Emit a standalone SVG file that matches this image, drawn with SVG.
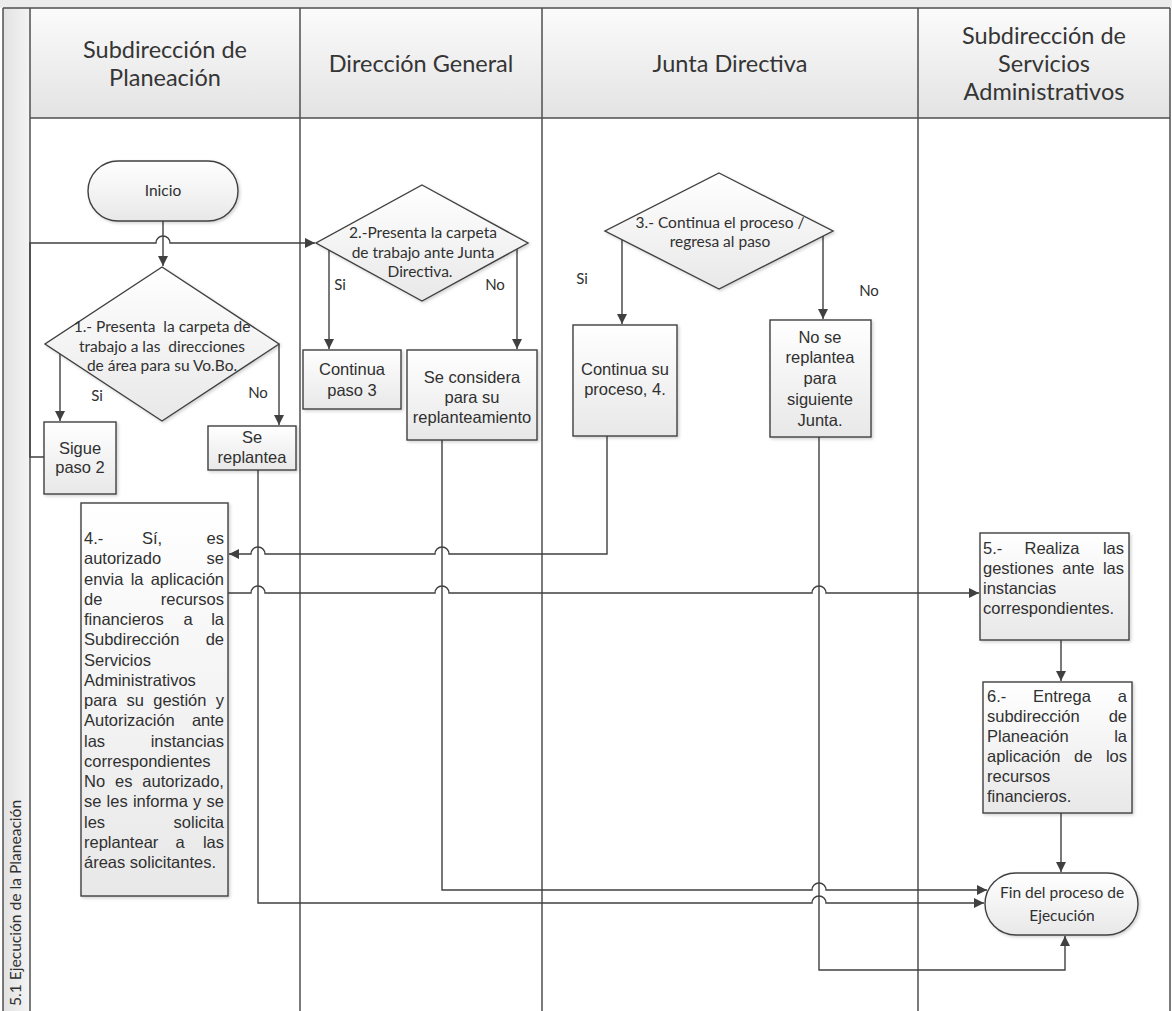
<svg xmlns="http://www.w3.org/2000/svg" width="1172" height="1011" viewBox="0 0 1172 1011">
<style>
.lane{stroke:#505050;stroke-width:1.5;fill:none}
.hdr{font-family:Lato,"Open Sans",sans-serif;font-size:23.5px;fill:#353535;text-anchor:middle}
.node{fill:url(#nodeGrad);stroke:#404040;stroke-width:1.4;filter:url(#shadow)}
.cal{font-family:Lato,"Open Sans",sans-serif;font-size:15.5px;fill:#303030;text-anchor:middle;white-space:pre}
.lbl{font-family:Lato,"Open Sans",sans-serif;font-size:15px;fill:#303030;text-anchor:middle}
.ar{font-family:"Liberation Sans",Arial,sans-serif;font-size:16.5px;fill:#303030}
.c{text-anchor:middle}
.e{text-anchor:end}
.conn{stroke:#404040;stroke-width:1.4;fill:none}
.arr{marker-end:url(#ah)}
</style>
<defs>
<linearGradient id="hdrGrad" x1="0" y1="0" x2="0" y2="1">
<stop offset="0" stop-color="#fbfbfb"/>
<stop offset="1" stop-color="#e3e3e3"/>
</linearGradient>
<linearGradient id="nodeGrad" x1="0" y1="0" x2="0" y2="1">
<stop offset="0" stop-color="#ffffff"/>
<stop offset="1" stop-color="#e8e8e8"/>
</linearGradient>
<linearGradient id="stripGrad" x1="0" y1="0" x2="1" y2="0">
<stop offset="0" stop-color="#e2e2e2"/>
<stop offset="1" stop-color="#f4f4f4"/>
</linearGradient>
<filter id="shadow" x="-10%" y="-10%" width="130%" height="130%">
<feDropShadow dx="1.5" dy="1.5" stdDeviation="1.5" flood-color="#000" flood-opacity="0.18"/>
</filter>
<marker id="ah" viewBox="0 0 10 10" refX="10" refY="5" markerWidth="10" markerHeight="10" markerUnits="userSpaceOnUse" orient="auto">
<path d="M0,0 L10,5 L0,10 z" fill="#404040"/>
</marker>
</defs>

<g id="pool">
<rect x="0" y="0" width="1172" height="8" fill="#ececec"/>
<rect x="3" y="8" width="27" height="1010" fill="url(#stripGrad)"/>
<rect x="30" y="8" width="1140" height="110" fill="url(#hdrGrad)"/>
<rect x="30" y="118" width="1140" height="900" fill="#ffffff"/>
<path class="lane" d="M3,8 H1170 M3,8 V1011 M30,8 V1011 M300,8 V1011 M542,8 V1011 M918,8 V1011 M1170,8 V1011 M30,118 H1170"/>
<text transform="translate(21,1006) rotate(-90)" font-family="Lato,'Open Sans',sans-serif" font-size="15.6" fill="#303030">5.1 Ejecución de la Planeación</text>
<text class="hdr" x="165" y="58">Subdirección de</text>
<text class="hdr" x="165" y="86">Planeación</text>
<text class="hdr" x="421" y="72">Dirección General</text>
<text class="hdr" x="730" y="72">Junta Directiva</text>
<text class="hdr" x="1044" y="44">Subdirección de</text>
<text class="hdr" x="1044" y="72">Servicios</text>
<text class="hdr" x="1044" y="100">Administrativos</text>
</g>

<g id="connectors">
<path class="conn arr" d="M163,221 V266"/>
<path class="conn arr" d="M60,354 V421"/>
<path class="conn arr" d="M279,344 V425"/>
<path class="conn arr" d="M44,457 H30 V243 H156 a7,7 0 0 1 14,0 H315"/>
<path class="conn arr" d="M329,250 V349"/>
<path class="conn arr" d="M517,249 V349"/>
<path class="conn arr" d="M622,240 V324"/>
<path class="conn arr" d="M823,236 V319"/>
<path class="conn arr" d="M607,436 V554 H449 a7,7 0 0 0 -14,0 H265 a7,7 0 0 0 -14,0 H229"/>
<path class="conn arr" d="M228,593 H251 a7,7 0 0 1 14,0 H435 a7,7 0 0 1 14,0 H812 a7,7 0 0 1 14,0 H979"/>
<path class="conn arr" d="M258,470 V903 H812 a7,7 0 0 1 14,0 H984"/>
<path class="conn arr" d="M442,440 V890 H812 a7,7 0 0 1 14,0 H987"/>
<path class="conn arr" d="M819,437 V970 H1065 V936"/>
<path class="conn arr" d="M1061,640 V681"/>
<path class="conn arr" d="M1061,813 V872"/>
<text class="lbl" x="97" y="401">Si</text>
<text class="lbl" x="258" y="398">No</text>
<text class="lbl" x="340" y="290">Si</text>
<text class="lbl" x="495" y="290">No</text>
<text class="lbl" x="582" y="284">Si</text>
<text class="lbl" x="869" y="296">No</text>
</g>

<g id="inicio">
<rect class="node" x="88" y="161" width="150" height="60" rx="30"/>
<text class="cal" x="163" y="196">Inicio</text>
</g>

<g id="decision1">
<polygon class="node" points="162,267 279,344 162,421 45,344"/>
<text class="cal" x="162" y="332">1.- Presenta  la carpeta de</text>
<text class="cal" x="162" y="352">trabajo a las  direcciones</text>
<text class="cal" x="162" y="371">de área para su Vo.Bo.</text>
</g>

<g id="sigue-paso-2">
<rect class="node" x="44" y="422" width="72" height="72"/>
<text class="ar c" x="80" y="454">Sigue</text>
<text class="ar c" x="80" y="473">paso 2</text>
</g>

<g id="se-replantea">
<rect class="node" x="208" y="426" width="88" height="44"/>
<text class="ar c" x="252" y="443">Se</text>
<text class="ar c" x="252" y="463">replantea</text>
</g>

<g id="decision2">
<polygon class="node" points="422,185 528,243 422,301 316,243"/>
<text class="cal" x="423" y="238">2.-Presenta la carpeta</text>
<text class="cal" x="423" y="258">de trabajo ante Junta</text>
<text class="cal" x="420" y="277">Directiva.</text>
</g>

<g id="continua-paso-3">
<rect class="node" x="303" y="350" width="98" height="59"/>
<text class="ar c" x="352" y="375">Continua</text>
<text class="ar c" x="352" y="396">paso 3</text>
</g>

<g id="se-considera">
<rect class="node" x="407" y="350" width="130" height="90"/>
<text class="ar c" x="472" y="383">Se considera</text>
<text class="ar c" x="472" y="403">para su</text>
<text class="ar c" x="472" y="423">replanteamiento</text>
</g>

<g id="decision3">
<polygon class="node" points="719,173 833,231 719,289 605,231"/>
<text class="cal" x="720" y="228">3.- Continua el proceso /</text>
<text class="cal" x="720" y="247">regresa al paso</text>
</g>

<g id="continua-su-proceso">
<rect class="node" x="573" y="325" width="104" height="111"/>
<text class="ar c" x="625" y="375">Continua su</text>
<text class="ar c" x="625" y="395">proceso, 4.</text>
</g>

<g id="no-se-replantea">
<rect class="node" x="770" y="320" width="101" height="117"/>
<text class="ar c" x="820" y="343">No se</text>
<text class="ar c" x="820" y="363">replantea</text>
<text class="ar c" x="820" y="384">para</text>
<text class="ar c" x="820" y="405">siguiente</text>
<text class="ar c" x="820" y="426">Junta.</text>
</g>

<g id="paso-4">
<rect class="node" x="81" y="503" width="147" height="393"/>
<text class="ar" x="84" y="544">4.-</text><text class="ar c" x="152" y="544">Sí,</text><text class="ar e" x="224" y="544">es</text>
<text class="ar" x="84" y="564">autorizado</text><text class="ar e" x="224" y="564">se</text>
<text class="ar" x="84" y="584.5" word-spacing="2.6">envia la aplicación</text>
<text class="ar" x="84" y="605">de</text><text class="ar e" x="224" y="605">recursos</text>
<text class="ar" x="84" y="625">financieros</text><text class="ar c" x="188" y="625">a</text><text class="ar e" x="224" y="625">la</text>
<text class="ar" x="84" y="645">Subdirección</text><text class="ar e" x="224" y="645">de</text>
<text class="ar" x="84" y="665.5">Servicios</text>
<text class="ar" x="84" y="686">Administrativos</text>
<text class="ar" x="84" y="706" word-spacing="4.8">para su gestión y</text>
<text class="ar" x="84" y="726">Autorización</text><text class="ar e" x="224" y="726">ante</text>
<text class="ar" x="84" y="746.5">las</text><text class="ar e" x="224" y="746.5">instancias</text>
<text class="ar" x="84" y="767">correspondientes</text>
<text class="ar" x="84" y="787" word-spacing="5.3">No es autorizado,</text>
<text class="ar" x="84" y="807" word-spacing="0.6">se les informa y se</text>
<text class="ar" x="84" y="827.5">les</text><text class="ar e" x="224" y="827.5">solicita</text>
<text class="ar" x="84" y="848">replantear</text><text class="ar c" x="180" y="848">a</text><text class="ar e" x="224" y="848">las</text>
<text class="ar" x="84" y="868">áreas solicitantes.</text>
</g>

<g id="paso-5">
<rect class="node" x="980" y="533" width="149" height="107"/>
<text class="ar" x="983" y="554">5.-</text><text class="ar c" x="1052" y="554">Realiza</text><text class="ar e" x="1124" y="554">las</text>
<text class="ar" x="983" y="574" word-spacing="4">gestiones ante las</text>
<text class="ar" x="983" y="594">instancias</text>
<text class="ar" x="983" y="614">correspondientes.</text>
</g>

<g id="paso-6">
<rect class="node" x="983" y="682" width="149" height="131"/>
<text class="ar" x="987" y="702">6.-</text><text class="ar c" x="1062" y="702">Entrega</text><text class="ar e" x="1127" y="702">a</text>
<text class="ar" x="987" y="722">subdirección</text><text class="ar e" x="1127" y="722">de</text>
<text class="ar" x="987" y="742">Planeación</text><text class="ar e" x="1127" y="742">la</text>
<text class="ar" x="987" y="762" word-spacing="9">aplicación de los</text>
<text class="ar" x="987" y="782">recursos</text>
<text class="ar" x="987" y="802">financieros.</text>
</g>

<g id="fin">
<rect class="node" x="985" y="873" width="153" height="62" rx="31"/>
<text class="cal" x="1062" y="898">Fin del proceso de</text>
<text class="cal" x="1062" y="921">Ejecución</text>
</g>
</svg>
